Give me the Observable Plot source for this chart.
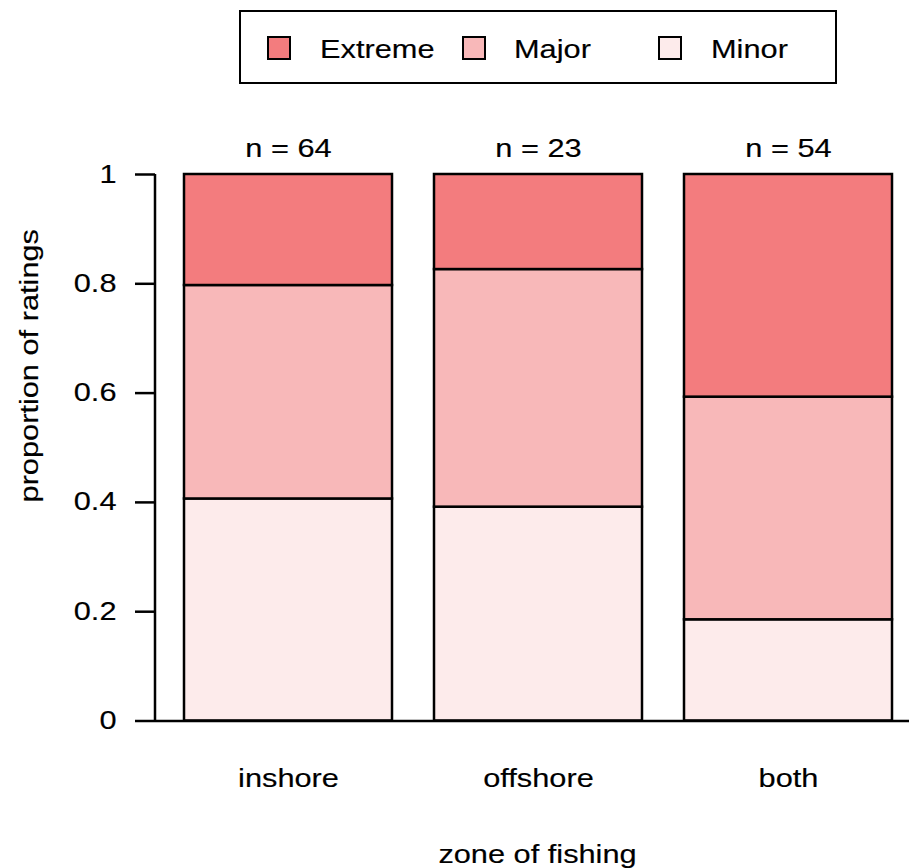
<!DOCTYPE html>
<html>
<head>
<meta charset="utf-8">
<script src="https://cdn.jsdelivr.net/npm/d3@7"></script>
<script src="https://cdn.jsdelivr.net/npm/@observablehq/plot@0.6"></script>
<style>
  html, body { margin: 0; padding: 0; background: #fff; }
  #wrap { position: relative; width: 909px; height: 868px; font-family: "Liberation Sans", Arial, sans-serif; color: #000; }
  #legend { position: relative; width: 909px; height: 100px; }
  #legend .box { position: absolute; left: 239px; top: 10px; width: 598px; height: 74px; box-sizing: border-box; border: 2.5px solid #000; }
  #legend .sw { position: absolute; top: 36px; width: 24px; height: 24px; box-sizing: border-box; border: 2.5px solid #000; }
  #legend .lab { position: absolute; top: 37px; font-size: 25px; line-height: 25px; white-space: nowrap; transform: scaleX(1.23); transform-origin: left center; -webkit-text-stroke: 0.15px #000; }
  #chart svg { display: block; }
</style>
</head>
<body>
<div id="wrap">
  <div id="legend"><div class="box"></div></div>
  <div id="chart"></div>
</div>
<script>
// ---- data ----
const zones = ["inshore", "offshore", "both"];
const severities = ["Minor", "Major", "Extreme"];          // stacking order, bottom to top
const legendOrder = ["Extreme", "Major", "Minor"];
const severityColors = ["#FDEBEB", "#F8B8B9", "#F37C7E"];   // Minor, Major, Extreme
const minorCounts = [26, 9, 10];
const majorCounts = [25, 10, 22];
const extremeCounts = [13, 4, 22];
const yTicks = [0, 0.2, 0.4, 0.6, 0.8, 1];
const yTickLabels = ["0", "0.2", "0.4", "0.6", "0.8", "1"];
const yTitle = "proportion of ratings";
const xTitle = "zone of fishing";

const totals = zones.map((z, i) => minorCounts[i] + majorCounts[i] + extremeCounts[i]);
const countsBySeverity = {Minor: minorCounts, Major: majorCounts, Extreme: extremeCounts};
const rows = [];
zones.forEach((z, i) => {
  severities.forEach(s => rows.push({zone: z, severity: s, p: countsBySeverity[s][i] / totals[i]}));
});

// ---- legend (HTML) ----
const legendSwatchLeft = [267, 462, 658];
const legendTextLeft = [320, 514, 711];
const legendEl = document.getElementById("legend");
legendOrder.forEach((s, i) => {
  const sw = document.createElement("div");
  sw.className = "sw";
  sw.style.left = legendSwatchLeft[i] + "px";
  sw.style.background = severityColors[severities.indexOf(s)];
  legendEl.appendChild(sw);
  const lab = document.createElement("div");
  lab.className = "lab";
  lab.style.left = legendTextLeft[i] + "px";
  lab.textContent = s;
  legendEl.appendChild(lab);
});

// ---- y axis line (custom render mark using the y scale) ----
function yAxisLine(index, scales, values, dimensions, context) {
  const doc = (context && context.document) || document;
  const y = scales.y;
  const line = doc.createElementNS("http://www.w3.org/2000/svg", "line");
  line.setAttribute("x1", dimensions.marginLeft);
  line.setAttribute("x2", dimensions.marginLeft);
  line.setAttribute("y1", y(0));
  line.setAttribute("y2", y(1));
  line.setAttribute("stroke", "#000");
  line.setAttribute("stroke-width", 2.5);
  return line;
}

const font = "'Liberation Sans', Arial, sans-serif";
const textStyle = {fontSize: 25, fill: "#000"};
const chart = Plot.plot({
  width: 909,
  height: 768,
  marginTop: 74,
  marginBottom: 147.5,
  marginLeft: 155,
  marginRight: 0,
  style: {fontFamily: font, fontSize: "25px", color: "#000", background: "#fff", overflow: "visible"},
  x: {domain: zones, paddingInner: 0.1667, paddingOuter: 0.0878, align: 0.643, axis: null},
  y: {domain: [0, 1], axis: null},
  color: {domain: severities, range: severityColors},
  marks: [
    Plot.barY(rows, {x: "zone", y: "p", fill: "severity", order: severities, stroke: "#000", strokeWidth: 2.5}),
    Plot.ruleY([0], {stroke: "#000", strokeWidth: 2.5}),
    yAxisLine,
    Plot.axisY({ticks: yTicks, tickFormat: d => yTickLabels[yTicks.indexOf(d)], tickSize: 20, tickPadding: 19, strokeWidth: 2.5, fontSize: 25, label: null}),
    Plot.axisX({tickSize: 0, tickPadding: 48, fontSize: 25, label: null}),
    Plot.text(zones, {x: d => d, y: () => 1, text: d => `n = ${totals[zones.indexOf(d)]}`, dy: -26, ...textStyle}),
    Plot.text([yTitle], {text: d => d, frameAnchor: "left", textAnchor: "middle", lineAnchor: "middle", rotate: -90, dx: -126, dy: -82, ...textStyle}),
    Plot.text([xTitle], {text: d => d, frameAnchor: "bottom", textAnchor: "middle", lineAnchor: "middle", dy: 134, dx: 5, ...textStyle})
  ]
});

// horizontally stretch all text like the reference rendering
chart.querySelectorAll("text").forEach(t => {
  let tr = t.getAttribute("transform") || "";
  const x = t.getAttribute("x"), y = t.getAttribute("y");
  if (x != null && x !== "" && !isNaN(+x)) { tr += ` translate(${x},0)`; t.removeAttribute("x"); }
  if (y != null && y !== "" && !isNaN(+y)) { tr += ` translate(0,${y})`; t.removeAttribute("y"); }
  t.setAttribute("transform", (tr + " scale(1.23,1)").trim());
  t.setAttribute("stroke", "#000");
  t.setAttribute("stroke-width", "0.15");
});

document.getElementById("chart").appendChild(chart);
</script>
</body>
</html>
